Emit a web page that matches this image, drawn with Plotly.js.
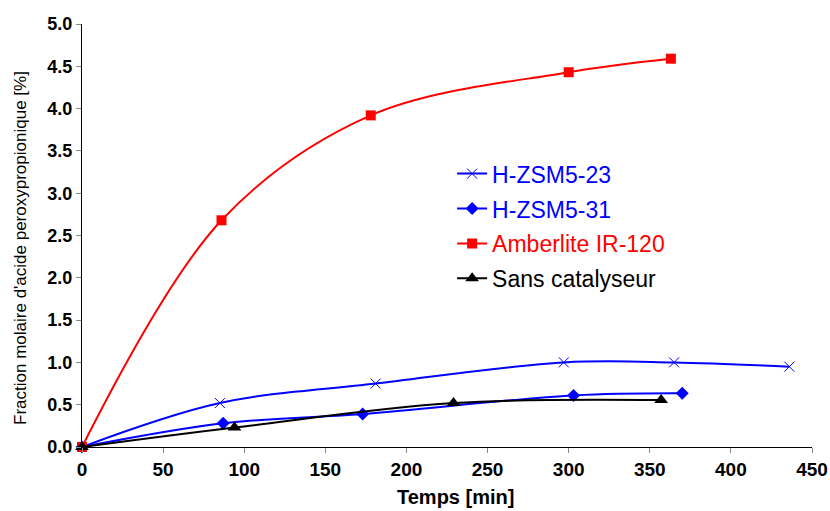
<!DOCTYPE html>
<html>
<head>
<meta charset="utf-8">
<script src="https://cdn.plot.ly/plotly-3.0.1.min.js"></script>
<style>html,body{margin:0;padding:0;background:#fff;}#chart{width:830px;height:511px;}</style>
</head>
<body>
<div id="chart"></div>
<script>
const seriesNames = ["H-ZSM5-23", "H-ZSM5-31", "Amberlite IR-120", "Sans catalyseur"];
const zsm23_t = [0, 85, 181, 297, 365, 436];
const zsm23_y = [0, 0.52, 0.75, 1.00, 1.00, 0.95];
const zsm31_t = [0, 87, 173, 303, 370];
const zsm31_y = [0, 0.28, 0.39, 0.61, 0.635];
const amber_t = [0, 86, 178, 300, 363];
const amber_y = [0, 2.68, 3.92, 4.43, 4.59];
const sans_t = [0, 94, 229, 357];
const sans_y = [0, 0.23, 0.52, 0.555];
const xTicks = [0, 50, 100, 150, 200, 250, 300, 350, 400, 450];
const yTicks = [0, 0.5, 1.0, 1.5, 2.0, 2.5, 3.0, 3.5, 4.0, 4.5, 5.0];
const xTitle = "Temps [min]";
const yTitle = "Fraction molaire d'acide peroxypropionique [%]";

const colors = ["#0000FF", "#0000FF", "#FF0000", "#000000"];
function mk(i, x, y, marker) {
  return {
    x: x, y: y, type: "scatter", mode: "lines+markers",
    name: '<span style="color:' + colors[i] + '">' + seriesNames[i] + '</span>',
    legendgroup: "g" + i,
    line: {color: colors[i], width: 2, shape: "spline", smoothing: 1},
    marker: marker, cliponaxis: false
  };
}
const traces = [
  mk(0, zsm23_t, zsm23_y, {symbol: "x-thin-open", size: 10, color: colors[0], line: {color: colors[0], width: 1}}),
  mk(1, zsm31_t, zsm31_y, {symbol: "diamond", size: 10, color: colors[1]}),
  mk(2, amber_t, amber_y, {symbol: "square", size: 10, color: colors[2]}),
  mk(3, sans_t, sans_y, {symbol: "triangle-up", size: 12, color: colors[3]})
];
const F = "Liberation Sans, Arial, sans-serif";
const layout = {
  width: 830, height: 511,
  margin: {l: 82, r: 18, t: 24, b: 64},
  paper_bgcolor: "#fff", plot_bgcolor: "#fff",
  font: {family: F, color: "#000"},
  showlegend: true,
  legend: {x: 0.507, y: 0.697, xanchor: "left", yanchor: "top", bgcolor: "rgba(0,0,0,0)",
           font: {size: 23, family: F}, tracegroupgap: 2, itemwidth: 30},
  xaxis: {
    range: [0, 450], tickvals: xTicks, ticktext: xTicks.map(v => "<b>" + v + "</b>"),
    showgrid: false, zeroline: false, showline: true, linecolor: "#000", linewidth: 1,
    ticks: "outside", ticklen: 5, tickcolor: "#888",
    tickfont: {size: 19, family: F}
  },
  yaxis: {
    range: [0, 5], tickvals: yTicks, ticktext: yTicks.map(v => "<b>" + v.toFixed(1) + "</b>"),
    showgrid: false, zeroline: false, showline: true, linecolor: "#000", linewidth: 1,
    ticks: "outside", ticklen: 5, tickcolor: "#888",
    tickfont: {size: 18, family: F}
  },
  annotations: [
    {text: "<b>" + xTitle + "</b>", xref: "paper", yref: "paper", x: 0.511, y: -0.119,
     xanchor: "center", yanchor: "middle", showarrow: false, font: {size: 20, family: F}},
    {text: yTitle, xref: "paper", yref: "paper", x: -0.0836, y: 0.4705, textangle: -90,
     xanchor: "center", yanchor: "middle", showarrow: false, font: {size: 17, family: F}}
  ]
};
Plotly.newPlot("chart", traces, layout, {displayModeBar: false, staticPlot: true});
</script>
</body>
</html>
